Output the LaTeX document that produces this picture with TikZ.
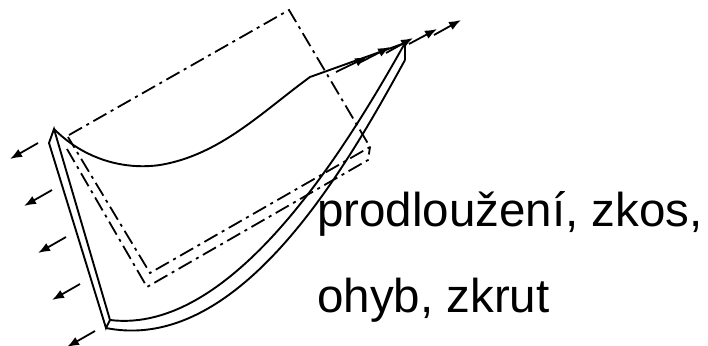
\documentclass[tikz,border=0pt]{standalone}
\usepackage{fontspec}
\setmainfont{Liberation Sans}
\usetikzlibrary{arrows.meta}
\tikzset{
 plate/.style={line width=1.9pt,line join=miter},
 axisrect/.style={line width=1.8pt,dash pattern=on 15pt off 5pt on 3pt off 5pt},
 force/.style={line width=1.8pt,-{Latex[length=12pt,width=9pt]}},
 lbl/.style={anchor=base west,inner sep=0pt,font=\fontsize{47.5}{47.5}\selectfont}
}
\begin{document}
\begin{tikzpicture}[x=1pt,y=-1pt]
\useasboundingbox (0,0) rectangle (708,345);
% plate
\draw[plate] (405,43) .. controls (345,150) and (232,335) .. (110,320);
\draw[plate] (405,60) -- (405,43);
\draw[plate] (405,60) .. controls (350,160) and (242,355) .. (106,328);
\draw[plate] (54,129) -- (110,320) -- (106,328) -- (49,143) -- cycle;
\draw[plate] (54,129) .. controls (85,160) and (125,170) .. (160,165)
  .. controls (220,155) and (262,112) .. (310,77) -- (405,43);
% dash-dot outlines
\draw[axisrect] (69,135) -- (289,10) -- (370,147) -- (150,273) -- (68,137);
\draw[axisrect] (67,149) -- (147,287) -- (368,160) -- (370,147);
% right forces
\draw[force] (336,72) -- (367,57);
\draw[force] (361,62) -- (390,47);
\draw[force] (386,53) -- (413,38);
\draw[force] (409,44) -- (437,29);
\draw[force] (434,35) -- (461,20);
% left forces
\draw[force] (38,143) -- (10,159);
\draw[force] (52,190) -- (24,206);
\draw[force] (66,237) -- (38,253);
\draw[force] (80,284) -- (52,300);
\draw[force] (95,331) -- (67,347);
% labels
\node[lbl] (t1) at (317,226.5) {prodloužení, zkos,};
\node[lbl] (t2) at (317,312.5) {ohyb, zkrut};
\end{tikzpicture}
\end{document}
